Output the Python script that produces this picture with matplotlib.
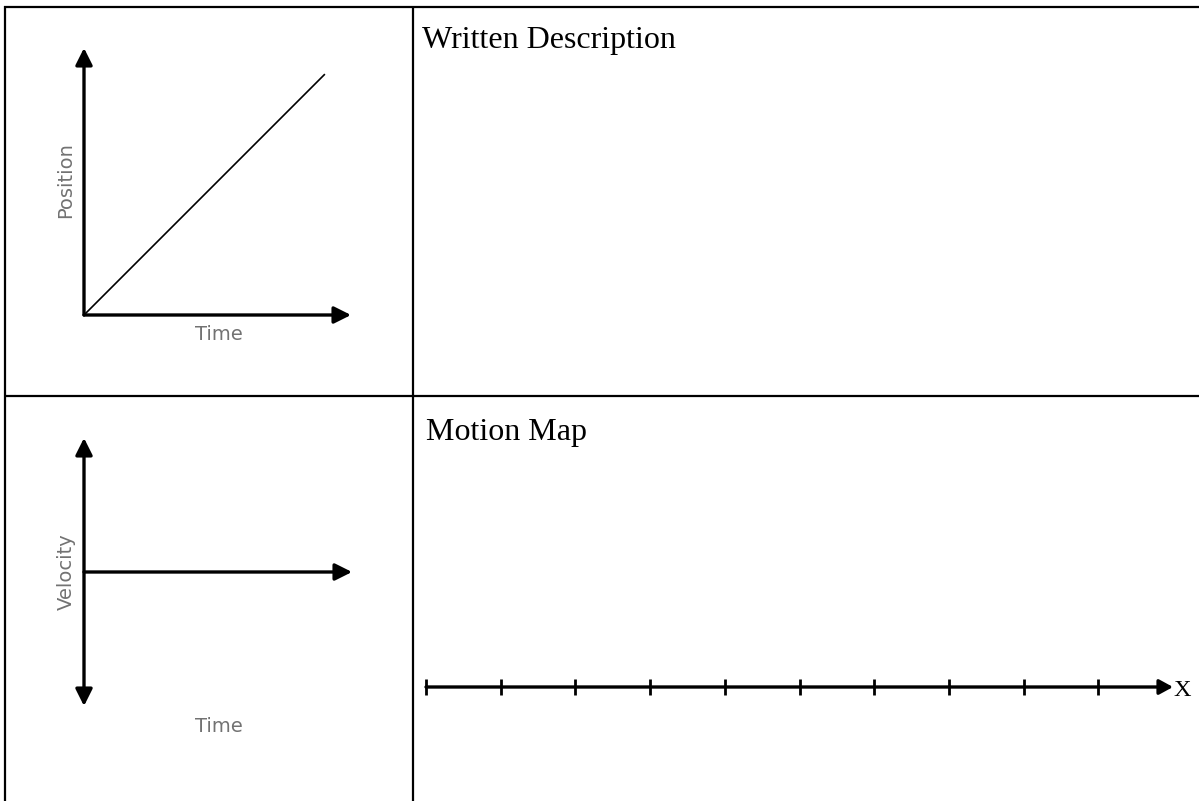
import matplotlib
matplotlib.use("Agg")
import matplotlib.pyplot as plt

W, H = 1199, 801

# graph data
pos_time = [0, 9]
pos_value = [0, 9]
map_ticks = [0, 1, 2, 3, 4, 5, 6, 7, 8, 9]

headings = ["Written Description", "Motion Map"]
axis_labels = [("Time", "Position"), ("Time", "Velocity")]

label_grey = "#727272"


def px_axes(fig, left, top, right, bottom):
    # pixel box (image coordinates, y down) -> figure axes
    return fig.add_axes([left / W, 1 - bottom / H, (right - left) / W, (bottom - top) / H])


def arrow(ax, start, end, style="-|>", head=(0.6, 0.3), scale=17):
    style = "%s,head_length=%g,head_width=%g" % (style, head[0], head[1])
    ax.annotate("", xy=end, xytext=start,
                arrowprops=dict(arrowstyle=style, lw=2.4, color="black",
                                mutation_scale=scale, shrinkA=0, shrinkB=0),
                annotation_clip=False)


fig = plt.figure(figsize=(W / 100, H / 100), dpi=100)

# table grid
page = fig.add_axes([0, 0, 1, 1])
page.set_xlim(0, W)
page.set_ylim(H, 0)
page.axis("off")
lw = 1.6
page.plot([5, 5], [6, H], color="black", lw=lw, solid_capstyle="butt")
page.plot([413, 413], [6, H], color="black", lw=lw, solid_capstyle="butt")
page.plot([4, W], [7, 7], color="black", lw=lw, solid_capstyle="butt")
page.plot([4, W], [396, 396], color="black", lw=lw, solid_capstyle="butt")

page.text(422, 48, headings[0], family="Liberation Serif", fontsize=23, va="baseline")
page.text(426, 440, headings[1], family="Liberation Serif", fontsize=23, va="baseline")

# position vs time
ax1 = px_axes(fig, 84, 48, 351, 315)
ax1.set_xlim(0, 10)
ax1.set_ylim(0, 10)
ax1.axis("off")
ax1.plot(pos_time, pos_value, color="black", lw=1.2, clip_on=False)
arrow(ax1, (0, 0), (10, 0))
arrow(ax1, (0, 0), (0, 10))
page.text(219, 335, axis_labels[0][0], family="DejaVu Sans", fontsize=14,
          color=label_grey, ha="center", va="center")
page.text(66, 180, axis_labels[0][1], family="DejaVu Sans", fontsize=14,
          color=label_grey, ha="center", va="center", rotation=90)

# velocity vs time
ax2 = px_axes(fig, 84, 438, 352, 706)
ax2.set_xlim(0, 10)
ax2.set_ylim(-5, 5)
ax2.axis("off")
arrow(ax2, (0, 0), (10, 0))
arrow(ax2, (0, -5), (0, 5), style="<|-|>")
page.text(219, 727, axis_labels[1][0], family="DejaVu Sans", fontsize=14,
          color=label_grey, ha="center", va="center")
page.text(66, 572, axis_labels[1][1], family="DejaVu Sans", fontsize=14,
          color=label_grey, ha="center", va="center", rotation=90)

# motion map line
ax3 = px_axes(fig, 426, 667, 1173, 707)
ax3.set_xlim(0, 10)
ax3.set_ylim(-1, 1)
ax3.axis("off")
arrow(ax3, (0, 0), (10, 0), head=(0.55, 0.3), scale=15)
ax3.plot(map_ticks, [0] * len(map_ticks), ls="none", marker="|", ms=11, mew=2,
         color="black", clip_on=False)
ax3.text(10.01, -0.15, "X", family="Liberation Serif", fontsize=17.5, ha="left",
         va="center")

fig.savefig("out.png", dpi=100)
